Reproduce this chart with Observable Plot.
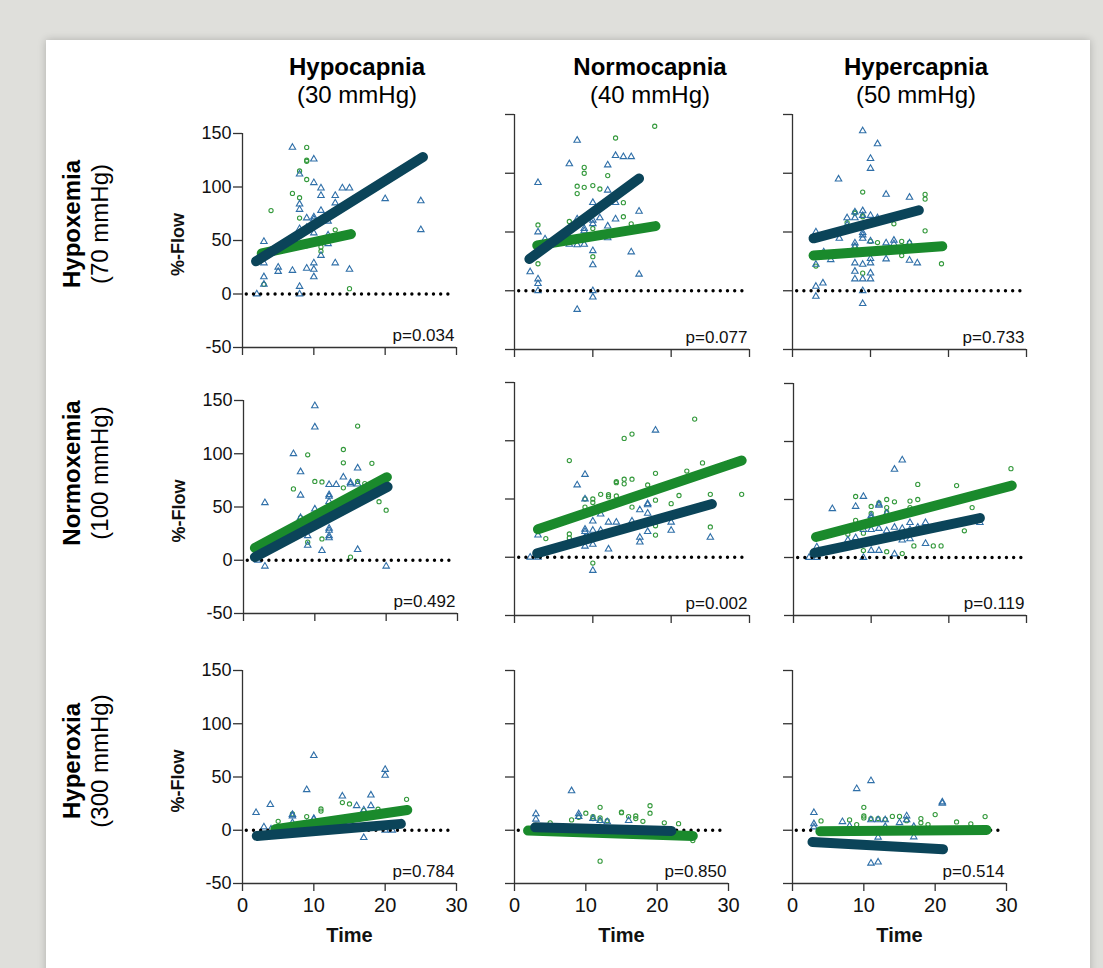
<!DOCTYPE html>
<html><head><meta charset="utf-8">
<script src="https://cdn.jsdelivr.net/npm/d3@7"></script>
<script src="https://cdn.jsdelivr.net/npm/@observablehq/plot@0.6"></script>
<style>
html,body{margin:0;padding:0;}
body{width:1103px;height:968px;background:#dfdfdb;position:relative;overflow:hidden;font-family:"Liberation Sans",Arial,sans-serif;}
#card{position:absolute;left:46px;top:40px;width:1044px;height:1000px;background:#fff;box-shadow:0 0 8px rgba(0,0,0,0.22);}
.lbl{position:absolute;white-space:nowrap;font-size:24px;line-height:24px;color:#000;}
.b{font-weight:bold;}
.pw{position:absolute;}
</style></head><body><div id="card"></div>
<script>
// ---------- labels ----------
const colTitles = ["Hypocapnia", "Normocapnia", "Hypercapnia"];
const colSubs = ["(30 mmHg)", "(40 mmHg)", "(50 mmHg)"];
const rowTitles = ["Hypoxemia", "Normoxemia", "Hyperoxia"];
const rowSubs = ["(70 mmHg)", "(100 mmHg)", "(300 mmHg)"];
const pValues = ["p=0.034", "p=0.077", "p=0.733", "p=0.492", "p=0.002", "p=0.119", "p=0.784", "p=0.850", "p=0.514"];
const yTicks = [-50, 0, 50, 100, 150];
const xTicks = [0, 10, 20, 30];
const yLabel = "%-Flow";
const xLabel = "Time";

// ---------- data: [time, %-flow] ----------
const tri_r1c1 = [[7,137],[10,126],[10,104],[8,112],[11,99],[14,99],[15,99],[11,92],[13,92],[20,89],[25,87],[25,60],[13,85],[8,84],[8,79],[11,78],[10,72],[10,70],[9,71],[11,69],[12,68],[8,61],[10,57],[12,47],[3,49],[3,29],[5,25],[5,21],[7,22],[9,24],[10,29],[10,23],[10,16],[11,36],[13,29],[15,23],[3,16],[3,9],[8,7],[8,0],[2,0],[9,62],[12,55],[6,45]];
const circ_r1c1 = [[9,137],[9,125],[9,124],[8,115],[9,107],[7,94],[8,90],[4,78],[8,71],[13,60],[11,44],[11,40],[3,9],[15,5],[9,45]];
const tri_r1c2 = [[8,128],[7,108],[3,92],[11.9,107],[12.9,115],[13.9,114],[14.9,114],[11.9,85.5],[10,75],[12.9,75],[10.9,62],[15.9,67.6],[12.9,61],[10,60],[10,57],[11.9,55],[8.9,53],[8.9,51],[8,61],[3,50],[3.9,44],[7,39.5],[8,39],[8.9,39.5],[11.9,45],[10,34],[10,22],[14.9,33],[15.9,14],[2,16],[3,10],[3,6],[3,0],[10,0],[10,-5.4],[8,-16]];
const circ_r1c2 = [[17.9,140],[12.9,130],[8.9,105],[8.9,100],[11.9,98],[8,89],[8.9,88],[10,89.5],[10.9,86.6],[8,82.7],[13.9,75],[13.9,63],[14.9,57],[7,59],[3,56],[10,53],[10,29],[3,23]];
const tri_r1c3 = [[9,136],[10.9,125],[10,112.5],[10,104],[5.9,95],[12,82],[15,79.5],[9,68],[8,67],[9,64],[10,64],[7,62],[8,62],[10.9,62],[7,56],[8,53],[9,49.4],[9,47.4],[9,44.6],[3,50],[6,44.6],[8,40.6],[8,37.8],[10,42.3],[12,40.6],[13,42.9],[13,40],[15,40.6],[8,23.6],[9,22.4],[10,23.6],[10,27.3],[12,27],[15,25.9],[16,23.6],[8,16.5],[10,15],[8,10],[9,10],[10,10],[3.9,6.5],[3,3.7],[3,-4.8],[9,0],[9,-11],[3,22.4],[4.9,26.4],[4,33]];
const circ_r1c3 = [[9,84],[17,82],[17,78],[8,67],[8,66],[9,64],[9,63],[7,58],[13,57],[17,51],[10,42],[10.9,41],[14,42],[15,41],[8,38],[14,30],[19.1,23],[9,15],[3,21]];
const tri_r2c1 = [[10,145],[10,125],[7,100],[8,83],[16,86.5],[14,78],[12,71],[13,71],[15,73],[15,71.5],[16,71.5],[12,61.5],[12,60],[12,55],[8,61],[10,48],[8,40],[12,30],[12,28],[12,23],[12,21],[9,23],[9,14],[11,9],[16,10],[3,54],[3,-5.6],[20,-5.6],[2,0]];
const circ_r2c1 = [[16,126],[14,104],[9,99],[14,91.5],[18,91],[10,74],[11,73.5],[16,74],[17,72],[14,68],[7,67],[19,55],[20,47],[10,39],[11,20],[9,17],[15,3],[8,40]];
const tri_r2c2 = [[18,109],[9,71],[8,62],[9,50],[11,37],[10,31],[12,30],[13,30],[15,31],[16,40.6],[17,46],[17,45],[17,37.7],[9,24],[9,22],[10,23],[11,23],[9,17],[9,9.4],[17,22],[20,23],[20,30],[12,7],[16,17],[16,13],[25,17],[10,11],[10,-11.4],[2,0],[3,0],[3,19]];
const circ_r2c2 = [[23,118.6],[15,105.7],[14,102],[7,83],[24,81],[22,74],[18,72],[13,65],[13,64],[14,67],[14,63],[15,67],[9,50],[10,50],[10,47],[11,54],[12,53.7],[12,52],[13,52.6],[17,62],[25,54],[29,54],[21,53],[9,43],[15,43],[18,49],[20,46],[18,27],[18,19],[25,26],[7,20],[7,16.6],[4,16],[10,-5]];
const tri_r2c3 = [[14,84],[13,76],[5,42],[9,52.6],[8,44],[11,46],[11,45],[10,36],[10,34],[12,38],[15,30],[17,30],[8,17],[7,15],[9,24],[10,24],[11,25],[12,23],[13,26],[14,25],[15,24],[16,26],[14,15],[15,16],[24,30],[17,12],[10,6],[11,6],[13,3],[3,9],[2,0],[3,0],[9,0]];
const circ_r2c3 = [[8,52.6],[10,44],[10,38],[12,50],[12,43],[11,47],[12,39],[16,63],[21,62],[28,76.6],[15,48.6],[16,50],[15,43],[13,48],[8,32],[9,21],[23,43],[22,23],[18,10],[19,10],[15.5,10],[12,5],[9,6],[14,3.4],[7,20]];
const tri_r3c1 = [[10,70],[9,38],[20,57],[20,51.5],[14,32],[18,33],[16,23],[18,23],[17,19],[3.9,24],[1.9,16.5],[7,14.7],[7,13.4],[10,11],[10,10.3],[3,3],[4,1],[7,7],[17,-7],[20,0],[21,0],[17,1.5],[9,6]];
const circ_r3c1 = [[23,29],[14,26],[15,24.7],[19,19.7],[17,18.4],[11,20],[11,18],[7,15.3],[9,12.8],[5,8.4]];
const tri_r3c2 = [[8,37],[3,15.3],[3,10.3],[9,15.3],[9,12.8],[11,11],[12,9],[16,9],[13,7.8]];
const circ_r3c2 = [[19,23],[19,16],[12,21.5],[15,17],[15,16.5],[10,16],[11,12.8],[11,11],[12,11.6],[12,9],[16,12.8],[17,13.4],[17,11],[18,8.4],[8,9.7],[9,12.2],[13,9],[21,7],[23,6.2],[5,7],[25,-9.7],[12,-29]];
const tri_r3c3 = [[11,46.5],[9,39],[21,26.5],[21,25.3],[3,16.5],[7,8],[11,9.7],[12,9.7],[13,9.7],[16,13.4],[16,9.7],[3,6],[3,3],[8,4],[13,3.4],[17,3.4],[12,-6.6],[17,-6.3],[11,-31],[12,-30],[15,7]];
const circ_r3c3 = [[10,21.5],[10,13.4],[10,11.6],[11,11],[12,11],[13,10.3],[14,13],[15,13],[16,9],[18,11],[18,7],[20,14.7],[27,12.8],[23,7.8],[25,6],[4,8.8],[8,9.7],[9,5.3],[19,5.3]];

// regression lines [x1, y1, x2, y2], panel order r1c1..r3c3
const navyLines = [[1.9,30.6,25.3,128],[1.9,27,15.9,95.5],[2.7,44.6,16.2,68.5],[1.6,3,20.2,69],[2.9,3.4,25.2,45.7],[2.7,4,24,34],[2,-5.3,22.2,6],[2.9,2.8,22,-0.6],[2.8,-11,21.1,-17.8]];
const greenLines = [[2.7,38,15.2,56],[2.9,38.6,18,55],[2.7,30,19.2,37.8],[1.6,11.5,20.1,78],[3,24,29,83],[2.9,17.7,28.1,62],[4.6,1,23.1,19],[1.9,-0.3,25,-5.3],[3.9,-1,27.2,0.3]];

const triData = [[tri_r1c1, tri_r1c2, tri_r1c3],[tri_r2c1, tri_r2c2, tri_r2c3],[tri_r3c1, tri_r3c2, tri_r3c3]];
const circData = [[circ_r1c1, circ_r1c2, circ_r1c3],[circ_r2c1, circ_r2c2, circ_r2c3],[circ_r3c1, circ_r3c2, circ_r3c3]];

// ---------- layout (frame boxes in page px) ----------
const frames = [
  [{x:242,y:133,w:214,h:214},{x:514,y:114,w:235,h:235},{x:792,y:114,w:234,h:235}],
  [{x:243,y:400,w:214,h:213},{x:514,y:382,w:235,h:233},{x:793,y:383,w:233,h:232}],
  [{x:242,y:670,w:214,h:213},{x:514,y:670,w:214,h:213},{x:792,y:670,w:214,h:213}]
];
const NAVY = "#0b4459", GREEN = "#1a8a2c", BLUE_PT = "#2f6fa8", GREEN_PT = "#34993c", AX = "#333";
const FONT = '"Liberation Sans", Arial, sans-serif';

function addLabel(text, cls, css) {
  const d = document.createElement("div");
  d.className = "lbl " + cls;
  d.textContent = text;
  Object.assign(d.style, css);
  document.body.appendChild(d);
}
const colCenters = [357, 650, 916];
colTitles.forEach((t, i) => {
  addLabel(t, "b", {left: colCenters[i] + "px", top: (75 - 20.3) + "px", transform: "translateX(-50%)"});
  addLabel(colSubs[i], "", {left: colCenters[i] + "px", top: (103 - 20.3) + "px", transform: "translateX(-50%)"});
});
const rowCenters = [224, 473, 761];
rowTitles.forEach((t, i) => {
  addLabel(t, "b", {left: "71.7px", top: rowCenters[i] + "px", transform: "translate(-50%,-50%) rotate(-90deg)"});
  addLabel(rowSubs[i], "", {left: "99.7px", top: rowCenters[i] + "px", transform: "translate(-50%,-50%) rotate(-90deg)"});
});

for (let r = 0; r < 3; r++) {
  for (let c = 0; c < 3; c++) {
    const k = r * 3 + c;
    const f = frames[r][c];
    const mL = c === 0 ? 90 : 14, mR = 14, mT = 8, mB = r === 2 ? 80 : 16;
    const W = f.w + mL + mR, H = f.h + mT + mB;
    const marks = [
      Plot.dot(circData[r][c], {x: d => d[0], y: d => d[1], r: 2.1, stroke: GREEN_PT, strokeWidth: 1.1, fill: "none"}),
      Plot.dot(triData[r][c], {x: d => d[0], y: d => d[1], symbol: "triangle", r: 2.4, stroke: BLUE_PT, strokeWidth: 1.1, fill: "none"}),
      Plot.ruleY([0], {x1: 0.6, x2: 29.8, stroke: "#000", strokeWidth: 3.4, strokeDasharray: "0 7.2", strokeLinecap: "round"}),
      Plot.link([greenLines[k]], {x1: d => d[0], y1: d => d[1], x2: d => d[2], y2: d => d[3], stroke: GREEN, strokeWidth: 10, strokeLinecap: "round"}),
      Plot.link([navyLines[k]], {x1: d => d[0], y1: d => d[1], x2: d => d[2], y2: d => d[3], stroke: NAVY, strokeWidth: 10, strokeLinecap: "round"}),
      Plot.ruleX([0], {stroke: AX, strokeWidth: 1.3}),
      Plot.ruleY([-50], {stroke: AX, strokeWidth: 1.3}),
      Plot.axisY({ticks: yTicks, tickSize: 9, tickPadding: 2, tickFormat: c === 0 ? (d => String(d)) : (() => ""), fontSize: 18, stroke: AX, strokeWidth: 1.3, label: null}),
      Plot.axisX({ticks: xTicks, tickSize: 8, tickPadding: 6, tickFormat: r === 2 ? (d => String(d)) : (() => ""), fontSize: 20, stroke: AX, strokeWidth: 1.3, label: null}),
      Plot.text([pValues[k]], {text: d => d, frameAnchor: "bottom-right", textAnchor: "end", lineAnchor: "bottom", dx: -2, dy: -7, fontSize: 17})
    ];
    if (c === 0) marks.push(Plot.text([yLabel], {text: d => d, frameAnchor: "left", dx: -64, dy: 4, rotate: -90, textAnchor: "middle", lineAnchor: "middle", fontWeight: "bold", fontSize: 18}));
    if (r === 2) marks.push(Plot.text([xLabel], {text: d => d, frameAnchor: "bottom", dy: 44, lineAnchor: "top", textAnchor: "middle", fontWeight: "bold", fontSize: 20}));
    const svg = Plot.plot({
      width: W, height: H,
      marginLeft: mL, marginRight: mR, marginTop: mT, marginBottom: mB,
      x: {domain: [0, 30]}, y: {domain: [-50, 150]},
      style: {background: "transparent", overflow: "visible", fontFamily: FONT, fontSize: "18px", color: "#111"},
      marks
    });
    const wrap = document.createElement("div");
    wrap.className = "pw";
    wrap.style.left = (f.x - mL) + "px";
    wrap.style.top = (f.y - mT) + "px";
    wrap.style.width = W + "px";
    wrap.style.height = H + "px";
    wrap.appendChild(svg);
    document.body.appendChild(wrap);
  }
}
</script></body></html>
